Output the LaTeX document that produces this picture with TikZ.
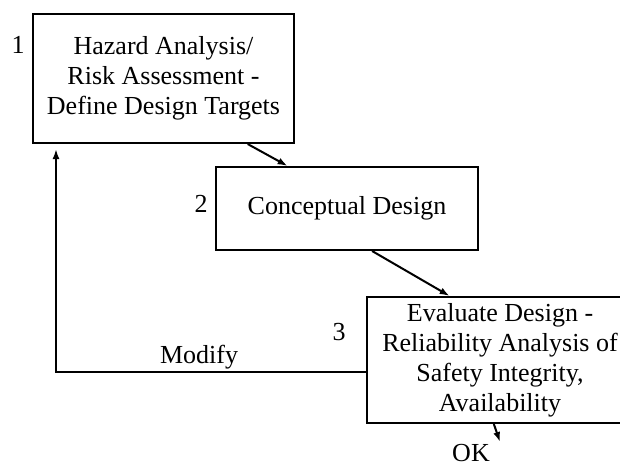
\documentclass[tikz,border=0pt]{standalone}
\usepackage{fontspec}
\setmainfont{Liberation Serif}
\usetikzlibrary{arrows.meta,calc}

\tikzset{
    stagebox/.style={draw, line width=2pt, inner sep=0pt, align=center,
        font=\fontsize{26}{30}\selectfont},
    tag/.style={anchor=base, inner sep=0pt, font=\fontsize{26}{30}\selectfont},
    flow/.style={line width=2pt, -{Latex[length=10pt,width=7pt]}}
}

\begin{document}
\begin{tikzpicture}[x=1pt, y=-1pt]

    % Page frame
    \useasboundingbox (0,0) rectangle (620,466);
    \clip (0,0) rectangle (620,466);

    % Step 1: hazard analysis
    \node[stagebox, minimum width=261pt, minimum height=129pt] (hazard) at (163.5,78.5)
        {Hazard Analysis/\\Risk Assessment -\\Define Design Targets};
    \node[tag] (num1) at (18,53) {1};

    % Step 2: conceptual design
    \node[stagebox, minimum width=262pt, minimum height=83pt] (concept) at (347,208.5)
        {Conceptual Design};
    \node[tag] (num2) at (201,212) {2};

    % Step 3: evaluation (runs off the right edge)
    \node[stagebox, minimum width=266pt, minimum height=126pt] (evaluate) at (500,360)
        {Evaluate Design -\\Reliability Analysis of\\Safety Integrity,\\Availability};
    \node[tag] (num3) at (339,340) {3};

    % Forward arrows
    \draw[flow] ($(hazard.south west)!0.82!(hazard.south east)$)
        -- ($(concept.north west)!0.275!(concept.north east)$);
    \draw[flow] ($(concept.south west)!0.595!(concept.south east)$)
        -- ($(evaluate.north west)!0.312!(evaluate.north east)$);

    % Exit to OK
    \node[tag] (ok) at (471,461) {OK};
    \coordinate (okend) at (500,442);
    \draw[flow] ($(evaluate.south west)!0.477!(evaluate.south east)$) -- (okend);

    % Modify loop back to step 1
    \coordinate (loopcorner) at (56,372);
    \draw[flow, shorten >=5pt] (evaluate.west |- loopcorner) -- (loopcorner)
        -- (loopcorner |- hazard.south);
    \node[tag] (modify) at (199,363) {Modify};

\end{tikzpicture}
\end{document}
